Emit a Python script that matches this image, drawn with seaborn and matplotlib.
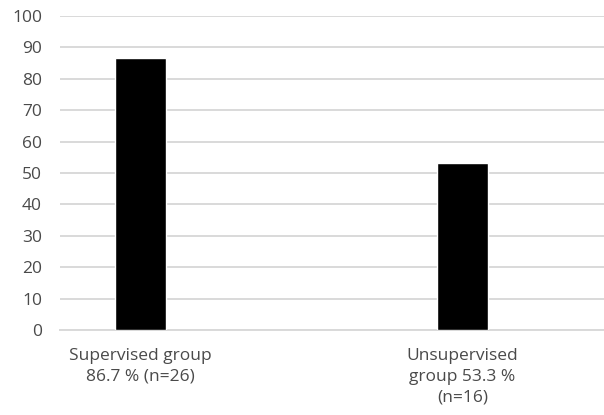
import matplotlib
matplotlib.use("Agg")
import matplotlib.pyplot as plt
import seaborn as sns
import pandas as pd

categories = ["Supervised group\n86.7 % (n=26)", "Unsupervised\ngroup 53.3 %\n(n=16)"]
values = [86.7, 53.3]
yticks = list(range(0, 101, 10))

sns.set_theme(style="white")
plt.rcParams["font.family"] = ["Open Sans", "DejaVu Sans"]

df = pd.DataFrame({"group": categories, "pct": values})

fig = plt.figure(figsize=(6.04, 4.15), dpi=100)
ax = fig.add_axes([60 / 604, 85 / 415, 544 / 604, 314 / 415])

sns.barplot(data=df, x="group", y="pct", color="black", width=0.16,
            saturation=1, ax=ax, zorder=3)

ax.set_ylim(0, 100)
ax.set_yticks(yticks)
ax.set_xlim(-0.25, 1.44)
ax.yaxis.grid(True, color="#d9d9d9", linewidth=1.4, zorder=0)
ax.xaxis.grid(False)
for side in ["top", "right", "left"]:
    ax.spines[side].set_visible(False)
ax.spines["bottom"].set_color("#d9d9d9")
ax.spines["bottom"].set_linewidth(1.4)
ax.set_xlabel("")
ax.set_ylabel("")
ax.tick_params(axis="both", length=0, labelsize=12.5, colors="#4a4a4a")
ax.tick_params(axis="x", pad=13)
ax.tick_params(axis="y", pad=13)
for lbl in ax.get_xticklabels():
    lbl.set_linespacing(1.4)

fig.savefig("out.png", dpi=100)
